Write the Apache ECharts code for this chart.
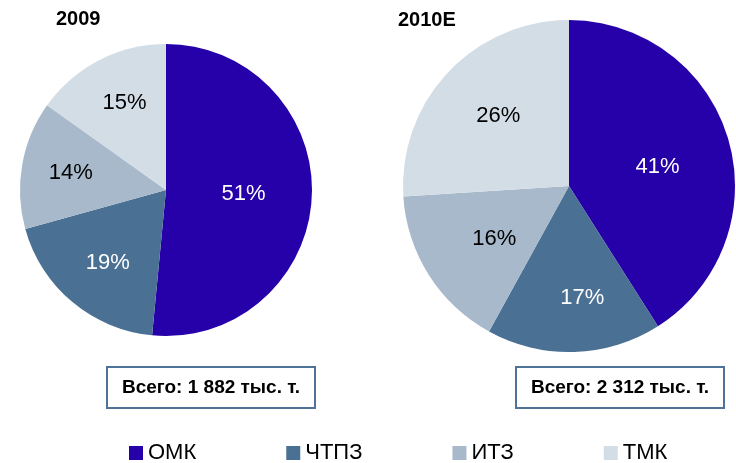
<!DOCTYPE html>
<html>
<head>
<meta charset="utf-8">
<script src="https://cdn.jsdelivr.net/npm/echarts@6/dist/echarts.min.js"></script>
<style>
html,body{margin:0;padding:0;background:#fff;}
#chart{width:736px;height:463px;}
</style>
</head>
<body>
<div id="chart"></div>
<script>
const categories = ['ОМК', 'ЧТПЗ', 'ИТЗ', 'ТМК'];
const values2009 = [51, 19, 14, 15];
const values2010 = [41, 17, 16, 26];
const years = ['2009', '2010E'];
const totals = ['Всего: 1 882 тыс. т.', 'Всего: 2 312 тыс. т.'];

const colors = ['#2600A8', '#4A7094', '#A7B9CA', '#D3DDE6'];
const labelColors = ['#ffffff', '#ffffff', '#000000', '#000000'];
// small label nudges (px) per slice, to match the reference's label placement
const labelNudge2009 = [[-13, 0], [0, 4], [-6, -1], [0, -7]];
const labelNudge2010 = [[-10, 10], [10, 9], [12, -2], [4, 0]];
const FONT = 'Liberation Sans, Arial, sans-serif';

function pieData(vals) {
  return categories.map((c, i) => ({ name: c, value: vals[i], itemStyle: { color: colors[i] } }));
}
function labelData(vals, nudges) {
  return categories.map((c, i) => ({
    name: c, value: vals[i],
    itemStyle: { color: 'rgba(0,0,0,0)' },
    label: { color: labelColors[i], offset: nudges[i] }
  }));
}

const pies = [
  { center: [166, 190], r: 146, vals: values2009, nudges: labelNudge2009 },
  { center: [569, 186], r: 166, vals: values2010, nudges: labelNudge2010 }
];

const series = [];
pies.forEach(p => {
  series.push({
    type: 'pie', center: p.center, radius: [0, p.r],
    startAngle: 90, clockwise: true, silent: true,
    label: { show: false }, labelLine: { show: false },
    itemStyle: { borderWidth: 0 },
    emphasis: { disabled: true },
    data: pieData(p.vals), animation: false
  });
});
pies.forEach(p => {
  series.push({
    type: 'pie', center: p.center, radius: [0, p.r * 1.2],
    startAngle: 90, clockwise: true, silent: true,
    label: {
      show: true, position: 'inside', formatter: '{c}%',
      fontFamily: FONT, fontSize: 22
    },
    labelLine: { show: false },
    emphasis: { disabled: true },
    data: labelData(p.vals, p.nudges), animation: false, z: 3
  });
});

const chart = echarts.init(document.getElementById('chart'), null, { renderer: 'canvas' });
chart.setOption({
  backgroundColor: '#ffffff',
  animation: false,
  title: [
    { text: years[0], left: 51, top: 4, textStyle: { fontFamily: FONT, fontSize: 20, fontWeight: 'bold', color: '#000' } },
    { text: years[1], left: 393, top: 5, textStyle: { fontFamily: FONT, fontSize: 20, fontWeight: 'bold', color: '#000' } },
    { text: totals[0], left: 107, top: 367, padding: [11, 15, 11, 15], borderColor: '#4F7397', borderWidth: 2,
      backgroundColor: '#fff', textStyle: { fontFamily: FONT, fontSize: 19, fontWeight: 'bold', color: '#000' } },
    { text: totals[1], left: 516, top: 367, padding: [11, 15, 11, 15], borderColor: '#4F7397', borderWidth: 2,
      backgroundColor: '#fff', textStyle: { fontFamily: FONT, fontSize: 19, fontWeight: 'bold', color: '#000' } }
  ],
  legend: {
    left: 124, top: 437, icon: 'rect', itemWidth: 14, itemHeight: 14, itemGap: 90,
    selectedMode: false,
    textStyle: { fontFamily: FONT, fontSize: 22, color: '#000' },
    data: categories.map((c, i) => ({ name: c, itemStyle: { color: colors[i] } }))
  },
  series: series
});
</script>
</body>
</html>
